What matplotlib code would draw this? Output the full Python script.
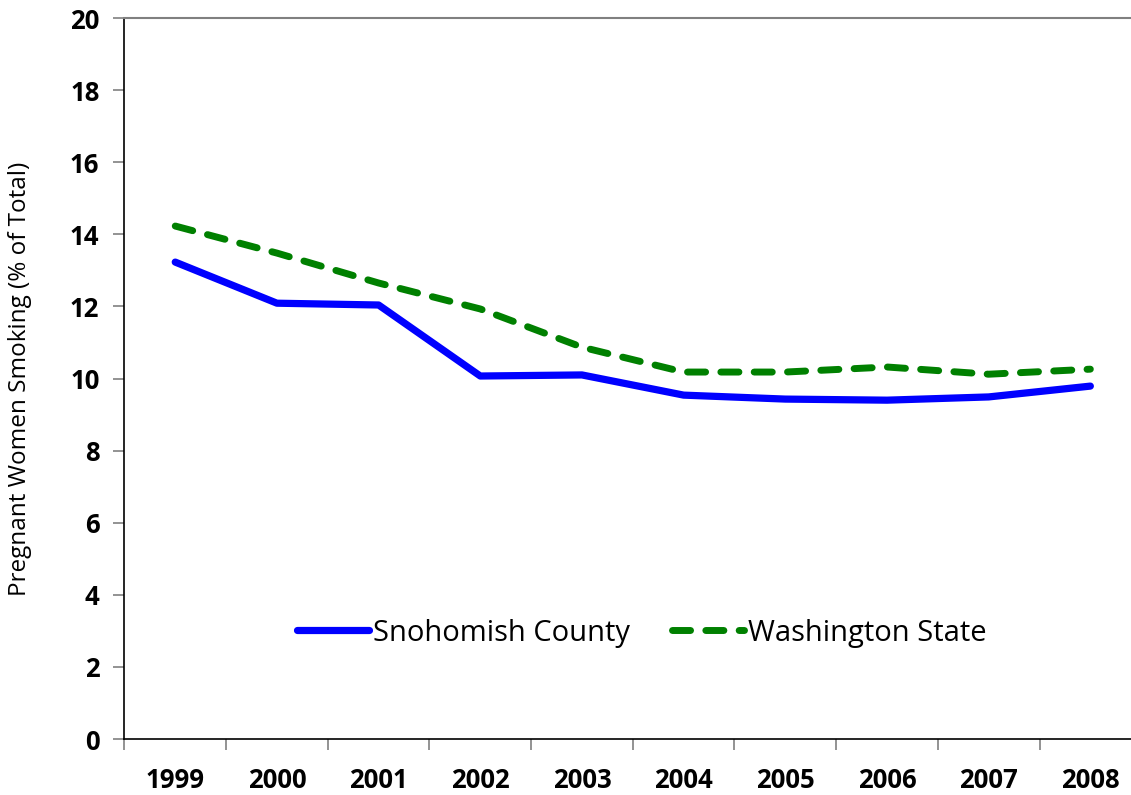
import matplotlib.pyplot as plt
import numpy as np

years = ['1999', '2000', '2001', '2002', '2003', '2004', '2005', '2006', '2007', '2008']
snohomish = [13.23, 12.09, 12.04, 10.07, 10.10, 9.54, 9.43, 9.40, 9.49, 9.79]
washington = [14.23, 13.48, 12.65, 11.93, 10.87, 10.18, 10.18, 10.32, 10.12, 10.26]

plt.rcParams['font.family'] = ['Open Sans', 'DejaVu Sans']

fig = plt.figure(figsize=(11.31, 7.95), dpi=100)
ax = fig.add_axes([0.110, 0.0704, 0.899, 0.9069])

x = np.arange(len(years))
ax.plot(x, snohomish, color='#0000ff', lw=5.2, solid_capstyle='round',
        solid_joinstyle='round', label='Snohomish County')
ax.plot(x, washington, color='#008000', lw=5, dashes=(2.6, 2.2),
        dash_capstyle='round', label='Washington State')

ax.set_xlim(-0.5, len(years) - 0.5)
ax.set_ylim(0, 20)
ax.set_yticks(range(0, 21, 2))
ax.set_xticks(x)
ax.set_xticklabels(years)
ax.set_xticks(np.arange(-0.5, len(years), 1), minor=True)
ax.tick_params(axis='x', which='major', length=0, pad=20, labelsize=18.5)
ax.tick_params(axis='x', which='minor', length=8, width=1.2, color='#808080')
ax.tick_params(axis='y', length=8, width=1.2, color='#808080', labelsize=18.5, pad=10)
for lbl in ax.get_xticklabels() + ax.get_yticklabels():
    lbl.set_fontweight('bold')

ax.spines['right'].set_visible(False)
ax.spines['top'].set_color('#808080')
ax.spines['top'].set_linewidth(1.5)
ax.spines['left'].set_linewidth(1.2)
ax.spines['bottom'].set_linewidth(1.2)

ax.set_ylabel('Pregnant Women Smoking (% of Total)', fontsize=17.5, va='center')
ax.yaxis.set_label_coords(-0.103, 0.5)

ax.legend(loc='center', bbox_to_anchor=(0.509, 0.147), ncol=2, frameon=False,
          fontsize=21, handlelength=2.45, handletextpad=0.15, columnspacing=1.45)

fig.savefig('out.png', dpi=100)
